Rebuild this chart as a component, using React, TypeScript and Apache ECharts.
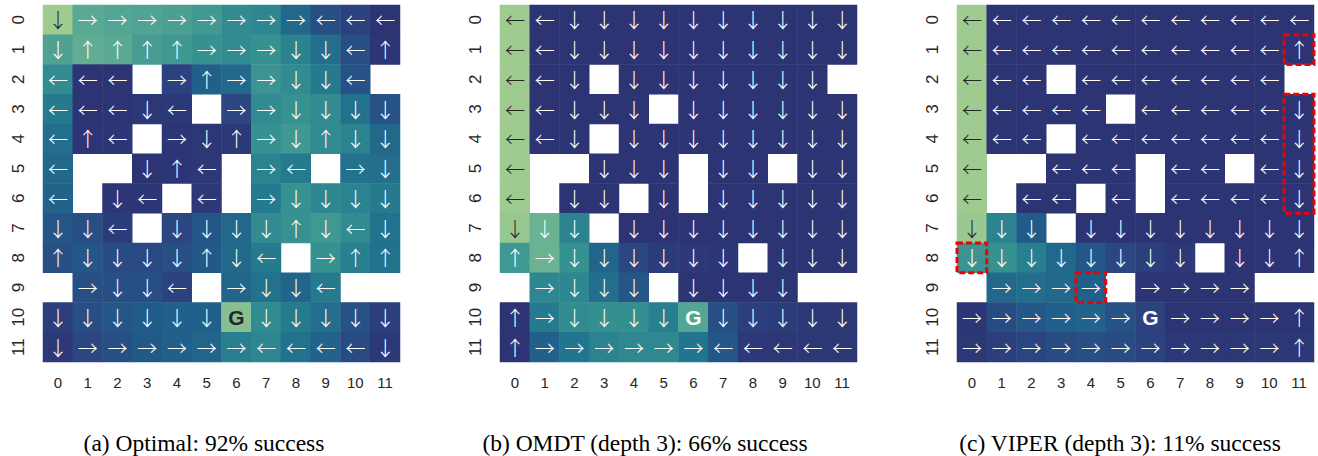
import React, { useEffect, useRef } from "react";
import * as echarts from "echarts";

const ticks = ["0", "1", "2", "3", "4", "5", "6", "7", "8", "9", "10", "11"];

// arrow codes: L ← R → U ↑ D ↓ G goal . = empty cell
const arrowsA = [
  "DRRRRRRRRLLL",
  "DUUUURRRDDLU",
  "LLL.RURRDDL.",
  "LLLDL.RRDDDD",
  "LUL.RDURDUDD",
  "L..DUL.RL.RD",
  "L.DL.L.RDDDD",
  "DDL.DDDDUDLD",
  "UDDDDUDL.RUU",
  ".RDDL.RDDL..",
  "DDDDDDGDDDDD",
  "DRRRRRRLLLLD",
];
const valuesA = [
  [0.97, 0.72, 0.7, 0.69, 0.67, 0.63, 0.55, 0.52, 0.35, 0.2, 0.12, 0.02],
  [0.68, 0.75, 0.72, 0.65, 0.62, 0.58, 0.55, 0.58, 0.5, 0.38, 0.2, 0.03],
  [0.55, 0.02, 0.02, null, 0.12, 0.3, 0.35, 0.6, 0.55, 0.45, 0.22, null],
  [0.45, 0.02, 0.02, 0.04, 0.06, null, 0.15, 0.55, 0.58, 0.55, 0.4, 0.22],
  [0.38, 0.03, 0.03, null, 0.03, 0.04, 0.06, 0.58, 0.62, 0.55, 0.5, 0.35],
  [0.35, null, null, 0.02, 0.03, 0.05, null, 0.5, 0.45, null, 0.4, 0.38],
  [0.32, null, 0.03, 0.03, null, 0.05, null, 0.45, 0.58, 0.52, 0.5, 0.45],
  [0.25, 0.2, 0.08, null, 0.15, 0.25, 0.35, 0.55, 0.58, 0.62, 0.55, 0.4],
  [0.2, 0.25, 0.18, 0.16, 0.2, 0.26, 0.35, 0.45, null, 0.58, 0.48, 0.4],
  [null, 0.2, 0.2, 0.2, 0.12, null, 0.33, 0.4, 0.33, 0.45, null, null],
  [0.1, 0.2, 0.25, 0.28, 0.3, 0.3, 0.88, 0.55, 0.45, 0.38, 0.22, 0.1],
  [0.05, 0.15, 0.2, 0.26, 0.3, 0.33, 0.48, 0.52, 0.4, 0.32, 0.18, 0.06],
];

const arrowsB = [
  "LLDDDDDDDDDD",
  "LLDDDDDDDDDD",
  "LLD.DDDDDDD.",
  "LLDDD.DDDDDD",
  "LLD.DDDDDDDD",
  "L..DDD.DD.DD",
  "L.DD.D.DDDDD",
  "DDD.DDDDDDDD",
  "URDDDDDD.DDD",
  ".RDDD.DDDD..",
  "URDDDDGDDDDD",
  "URRRRRRLLLLL",
];
const valuesB = [
  [0.97, 0.02, 0.02, 0.02, 0.02, 0.02, 0.02, 0.02, 0.02, 0.02, 0.02, 0.02],
  [0.97, 0.02, 0.02, 0.02, 0.02, 0.02, 0.02, 0.02, 0.02, 0.02, 0.02, 0.02],
  [0.97, 0.02, 0.02, null, 0.02, 0.02, 0.02, 0.02, 0.02, 0.02, 0.02, null],
  [0.97, 0.02, 0.02, 0.02, 0.02, null, 0.02, 0.02, 0.02, 0.02, 0.02, 0.02],
  [0.97, 0.02, 0.02, null, 0.02, 0.02, 0.02, 0.02, 0.02, 0.02, 0.02, 0.02],
  [0.97, null, null, 0.02, 0.02, 0.02, null, 0.02, 0.02, null, 0.02, 0.02],
  [0.97, null, 0.02, 0.02, null, 0.02, null, 0.02, 0.02, 0.02, 0.02, 0.02],
  [0.94, 0.78, 0.5, null, 0.02, 0.02, 0.02, 0.02, 0.02, 0.02, 0.02, 0.02],
  [0.62, 0.78, 0.58, 0.33, 0.15, 0.08, 0.05, 0.03, null, 0.02, 0.02, 0.02],
  [null, 0.52, 0.52, 0.38, 0.25, null, 0.02, 0.02, 0.02, 0.02, null, null],
  [0.02, 0.45, 0.55, 0.57, 0.57, 0.48, 0.7, 0.2, 0.1, 0.08, 0.04, 0.04],
  [0.02, 0.3, 0.42, 0.5, 0.53, 0.53, 0.42, 0.25, 0.05, 0.04, 0.04, 0.04],
];

const arrowsC = [
  "LLLLLLLLLLLL",
  "LLLLLLLLLLLU",
  "LLL.LLLLLLL.",
  "LLLLL.LLLLLD",
  "LLL.LLLLLLLD",
  "L..LLL.LL.LD",
  "L.LL.L.LLLLD",
  "DDD.DDDDDDDD",
  "DDDDDDDD.DDU",
  ".RRRR.RRRR..",
  "RRRRRRGRRRRU",
  "RRRRRRRRRRRU",
];
const valuesC = [
  [0.97, 0.02, 0.02, 0.02, 0.02, 0.02, 0.02, 0.02, 0.02, 0.02, 0.02, 0.02],
  [0.97, 0.02, 0.02, 0.02, 0.02, 0.02, 0.02, 0.02, 0.02, 0.02, 0.02, 0.02],
  [0.97, 0.02, 0.02, null, 0.02, 0.02, 0.02, 0.02, 0.02, 0.02, 0.02, null],
  [0.97, 0.02, 0.02, 0.02, 0.02, null, 0.02, 0.02, 0.02, 0.02, 0.02, 0.02],
  [0.97, 0.02, 0.02, null, 0.02, 0.02, 0.02, 0.02, 0.02, 0.02, 0.02, 0.02],
  [0.97, null, null, 0.02, 0.02, 0.02, null, 0.02, 0.02, null, 0.02, 0.02],
  [0.97, null, 0.02, 0.02, null, 0.02, null, 0.02, 0.02, 0.02, 0.02, 0.02],
  [0.95, 0.5, 0.28, null, 0.02, 0.02, 0.02, 0.02, 0.02, 0.02, 0.02, 0.02],
  [0.6, 0.58, 0.48, 0.35, 0.25, 0.15, 0.1, 0.05, null, 0.02, 0.02, 0.02],
  [null, 0.35, 0.38, 0.35, 0.3, null, 0.02, 0.02, 0.02, 0.02, null, null],
  [0.03, 0.18, 0.25, 0.3, 0.32, 0.22, 0.12, 0.02, 0.02, 0.02, 0.02, 0.02],
  [0.04, 0.1, 0.14, 0.18, 0.2, 0.18, 0.12, 0.05, 0.04, 0.04, 0.04, 0.04],
];

// highlighted (mistake) cells in panel c: [column, first row, last row]
const boxesC = [
  [11, 1, 1],
  [11, 3, 6],
  [0, 8, 8],
  [4, 9, 9],
];

const captions = [
  "(a) Optimal: 92% success",
  "(b) OMDT (depth 3): 66% success",
  "(c) VIPER (depth 3): 11% success",
];

const crest = [
  "#2c3172",
  "#2b4580",
  "#215d89",
  "#22768e",
  "#348f91",
  "#57a893",
  "#80bd91",
  "#a7cf90",
];

const glyph: Record<string, string> = { L: "←", R: "→", U: "↑", D: "↓", G: "G" };

function buildData(arrows: string[], values: (number | null)[][]) {
  const out: any[] = [];
  for (let r = 0; r < 12; r++) {
    for (let c = 0; c < 12; c++) {
      const ch = arrows[r][c];
      const v = values[r][c];
      if (ch === "." || v === null) continue;
      const light = v > 0.85;
      const item: any = {
        value: [c, r, v],
        t: glyph[ch],
        label: { color: light ? "#262626" : "#ffffff" },
      };
      if (ch === "G") {
        item.label = {
          color: light ? "#262626" : "#ffffff",
          fontFamily: "Liberation Sans",
          fontWeight: "bold",
          fontSize: 21,
        };
      }
      out.push(item);
    }
  }
  return out;
}

const gridLefts = [43, 500, 957];
const captionX = [204, 645, 1120];

export default function App() {
  const ref = useRef<HTMLDivElement>(null);
  useEffect(() => {
    if (!ref.current) return;
    const chart = echarts.init(ref.current, null, { renderer: "svg" });
    const datasets = [
      buildData(arrowsA, valuesA),
      buildData(arrowsB, valuesB),
      buildData(arrowsC, valuesC),
    ];
    const axisLabelBase = {
      color: "#262626",
      fontFamily: "Liberation Sans",
    };
    const option: any = {
      animation: false,
      backgroundColor: "#ffffff",
      grid: gridLefts.map((l) => ({ left: l, top: 5, width: 357, height: 357 })),
      xAxis: gridLefts.map((_, i) => ({
        type: "category",
        gridIndex: i,
        data: ticks,
        position: "bottom",
        axisLine: { show: false },
        axisTick: { show: false },
        splitLine: { show: false },
        axisLabel: { ...axisLabelBase, fontSize: 15, margin: 13 },
      })),
      yAxis: gridLefts.map((_, i) => ({
        type: "category",
        gridIndex: i,
        data: ticks,
        inverse: true,
        axisLine: { show: false },
        axisTick: { show: false },
        splitLine: { show: false },
        axisLabel: { ...axisLabelBase, fontSize: 17, rotate: 90, margin: 16 },
      })),
      visualMap: {
        type: "continuous",
        show: false,
        min: 0,
        max: 1,
        dimension: 2,
        seriesIndex: [0, 1, 2],
        inRange: { color: crest },
      },
      series: [
        ...datasets.map((d, i) => ({
          type: "heatmap",
          xAxisIndex: i,
          yAxisIndex: i,
          data: d,
          itemStyle: { borderWidth: 0 },
          emphasis: { disabled: true },
          label: {
            show: true,
            formatter: (p: any) => p.data.t,
            fontFamily: "Noto Sans CJK SC",
            fontWeight: 300,
            fontSize: 20,
          },
        })),
        {
          type: "custom",
          xAxisIndex: 2,
          yAxisIndex: 2,
          data: boxesC,
          z: 10,
          renderItem: (params: any, api: any) => {
            const c = api.value(0);
            const r0 = api.value(1);
            const r1 = api.value(2);
            const p = api.coord([c, r0]);
            const s = api.size([1, 1]);
            return {
              type: "rect",
              shape: {
                x: p[0] - s[0] / 2,
                y: p[1] - s[1] / 2,
                width: s[0],
                height: s[1] * (r1 - r0 + 1),
              },
              style: {
                fill: "none",
                stroke: "#f00000",
                lineWidth: 3,
                lineDash: [6, 3],
              },
            };
          },
        },
      ],
      graphic: captions.map((t, i) => ({
        type: "text",
        x: captionX[i],
        y: 443,
        style: {
          text: t,
          fontFamily: "Liberation Serif",
          fontSize: 23.5,
          fill: "#000000",
          textAlign: "center",
          textVerticalAlign: "middle",
        },
      })),
    };
    chart.setOption(option);
    return () => chart.dispose();
  }, []);
  return (
    <div
      ref={ref}
      style={{ position: "absolute", left: 0, top: 0, width: 1318, height: 456 }}
    />
  );
}
